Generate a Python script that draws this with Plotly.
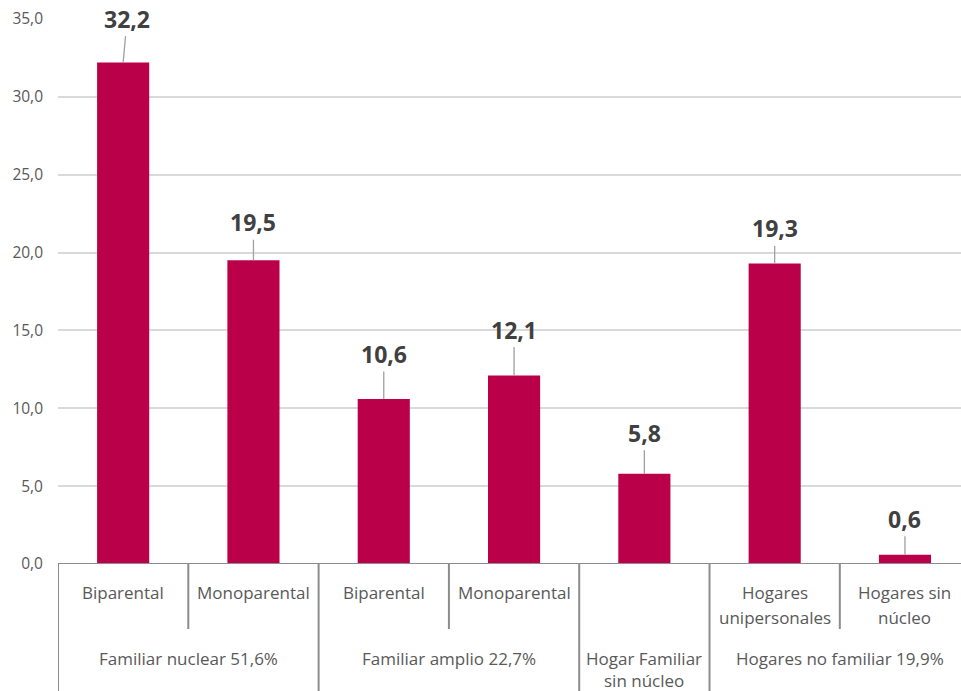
import plotly.graph_objects as go

# ---- data ----
subcategories = ["Biparental", "Monoparental", "Biparental", "Monoparental", "",
                 "Hogares<br>unipersonales", "Hogares sin<br>núcleo"]
groups = ["Familiar nuclear 51,6%", "Familiar amplio 22,7%",
          "Hogar Familiar<br>sin núcleo", "Hogares no familiar 19,9%"]
group_of = [0, 0, 1, 1, 2, 3, 3]
values = [32.2, 19.5, 10.6, 12.1, 5.8, 19.3, 0.6]
y_ticks = [0, 5, 10, 15, 20, 25, 30, 35]

# ---- style ----
label_ay = [-44, -38, -45, -46, -41, -35, -36]
label_ax = [4, 0, 0, 0, 0, 0, 0]
BAR = "#BA0049"
TXT = "#595959"
SEP = "#8c8c8c"
FONT = "Open Sans"

W, H = 961, 691
ML, MT, MB = 58, 19, 127
PH = H - MT - MB

def py(px_below):
    """paper y for a pixel offset below the x axis"""
    return -px_below / PH

xs = list(range(len(values)))
fig = go.Figure()
fig.add_trace(go.Bar(x=xs, y=values, width=0.4, marker_color=BAR,
                     marker_line_width=0, hoverinfo="skip"))

shapes = []
annotations = []

# axis line at 0
shapes.append(dict(type="line", xref="paper", yref="y", x0=0, x1=1.02, y0=0, y1=0,
                   line=dict(color=SEP, width=2)))

# separators
n = len(values)
for b in range(n + 1):
    xb = b - 0.5
    left = group_of[b - 1] if b > 0 else None
    right = group_of[b] if b < n else None
    full = left != right
    bottom = MB if full else 65
    shapes.append(dict(type="line", xref="x", yref="paper", x0=xb, x1=xb,
                       y0=0, y1=py(bottom), line=dict(color=SEP, width=2)))

# subcategory labels
for i, s in enumerate(subcategories):
    for k, line in enumerate(s.split("<br>")):
        if not line:
            continue
        annotations.append(dict(x=i, y=py(28 + 25 * k), xref="x", yref="paper",
                                text=line, showarrow=False, yanchor="middle",
                                font=dict(family=FONT, size=17, color=TXT)))

# group labels
for g, name in enumerate(groups):
    members = [i for i, gg in enumerate(group_of) if gg == g]
    xc = (members[0] + members[-1]) / 2
    for k, line in enumerate(name.split("<br>")):
        annotations.append(dict(x=xc, y=py(94 + 22 * k), xref="x", yref="paper",
                                text=line, showarrow=False, yanchor="middle",
                                font=dict(family=FONT, size=17, color=TXT)))

# data labels with leader lines
for i, v in enumerate(values):
    annotations.append(dict(x=i, y=v, xref="x", yref="y",
                            text=f"{v:.1f}".replace(".", ","),
                            showarrow=True, arrowhead=0, arrowwidth=1.3,
                            arrowcolor="#a0a0a0", ax=label_ax[i], ay=label_ay[i],
                            standoff=0,
                            font=dict(family=FONT, size=23, color="#404040",
                                      weight="bold")))

fig.update_layout(
    width=W, height=H,
    margin=dict(l=ML, r=0, t=MT, b=MB, pad=0),
    plot_bgcolor="white", paper_bgcolor="white",
    separators=",.",
    showlegend=False,
    shapes=shapes,
    annotations=annotations,
    xaxis=dict(range=[-0.5, 6.43], showticklabels=False, showgrid=False,
               zeroline=False, showline=False, fixedrange=True),
    yaxis=dict(range=[0, 35], tickvals=y_ticks, tickformat=".1f",
               showgrid=True, gridcolor="#d9d9d9", gridwidth=1.5,
               zeroline=False, showline=False, ticks="",
               ticklabelstandoff=14,
               tickfont=dict(family=FONT, size=15.5, color=TXT)),
)

fig.write_html("out.html", config={"displayModeBar": False},
               post_script="document.body.style.margin='0';"
                           "document.body.style.overflow='hidden';")
